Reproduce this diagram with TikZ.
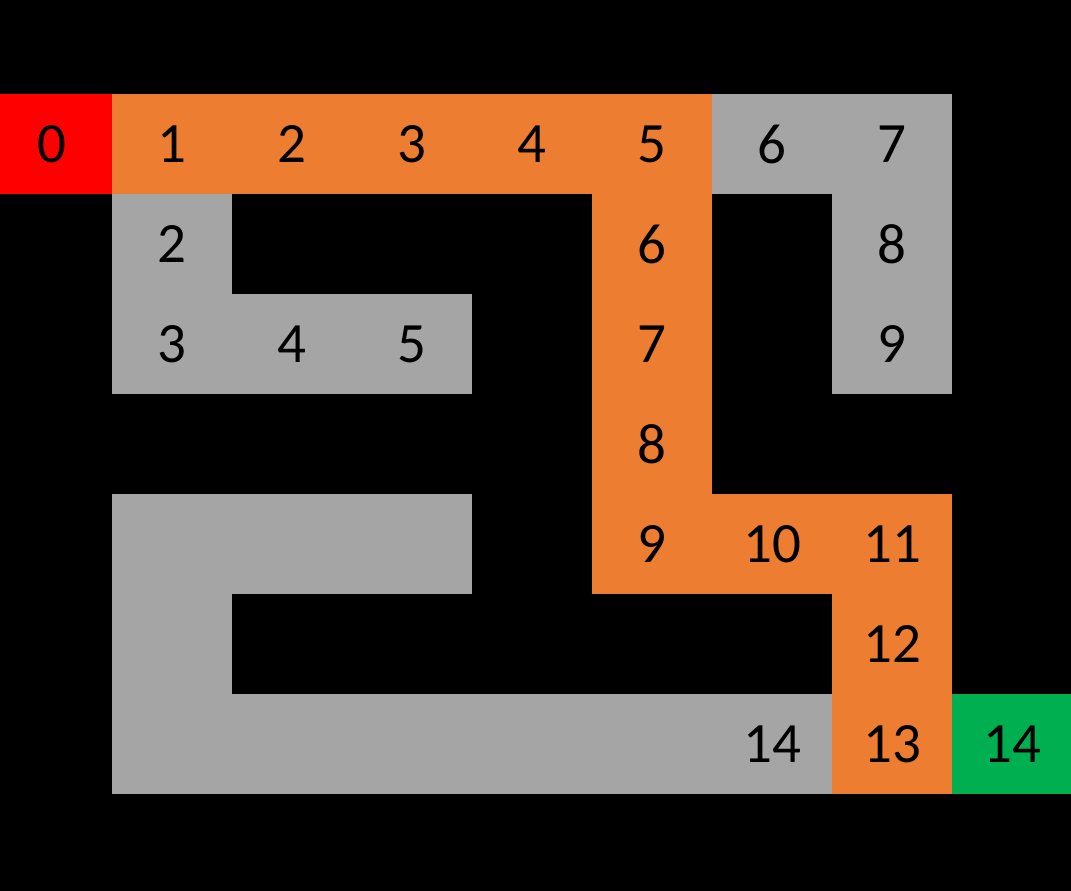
\documentclass[tikz,border=0pt]{standalone}
\usepackage{fontspec}
\setmainfont{Carlito}
\usepackage{tikz}
\usetikzlibrary{positioning}
\definecolor{startred}{HTML}{FF0000}
\definecolor{pathorange}{HTML}{ED7D31}
\definecolor{opengrey}{HTML}{A5A5A5}
\definecolor{goalgreen}{HTML}{00B050}
\tikzset{
    cell/.style={rectangle, minimum width=120pt, minimum height=100pt, inner sep=0pt,
                 text=black, font=\fontsize{57}{60}\selectfont},
    start/.style={cell, fill=startred},
    route/.style={cell, fill=pathorange},
    open/.style={cell, fill=opengrey},
    goal/.style={cell, fill=goalgreen}
}

\begin{document}
\begin{tikzpicture}[x=120pt, y=-100pt]
    % background
    \fill[black] (-0.4333,-1.44) rectangle (8.4917,7.47);
    \useasboundingbox (-0.4333,-1.44) rectangle (8.4917,7.47);

    % start and goal
    \node[start] (s) at (0,0) {0};
    \node[goal] (g) at (8,6) {14};

    % explored cells
    \foreach \c/\r/\t in {6/0/6, 7/0/7, 7/1/8, 7/2/9, 1/1/2, 1/2/3, 2/2/4, 3/2/5, 6/6/14,
                          1/4/, 2/4/, 3/4/, 1/5/, 1/6/, 2/6/, 3/6/, 4/6/, 5/6/}
        \node[open] (o\c\r) at (\c,\r) {\t};

    % shortest path
    \foreach \c/\r/\t in {1/0/1, 2/0/2, 3/0/3, 4/0/4, 5/0/5, 5/1/6, 5/2/7, 5/3/8,
                          5/4/9, 6/4/10, 7/4/11, 7/5/12, 7/6/13}
        \node[route] (p\c\r) at (\c,\r) {\t};
\end{tikzpicture}
\end{document}
